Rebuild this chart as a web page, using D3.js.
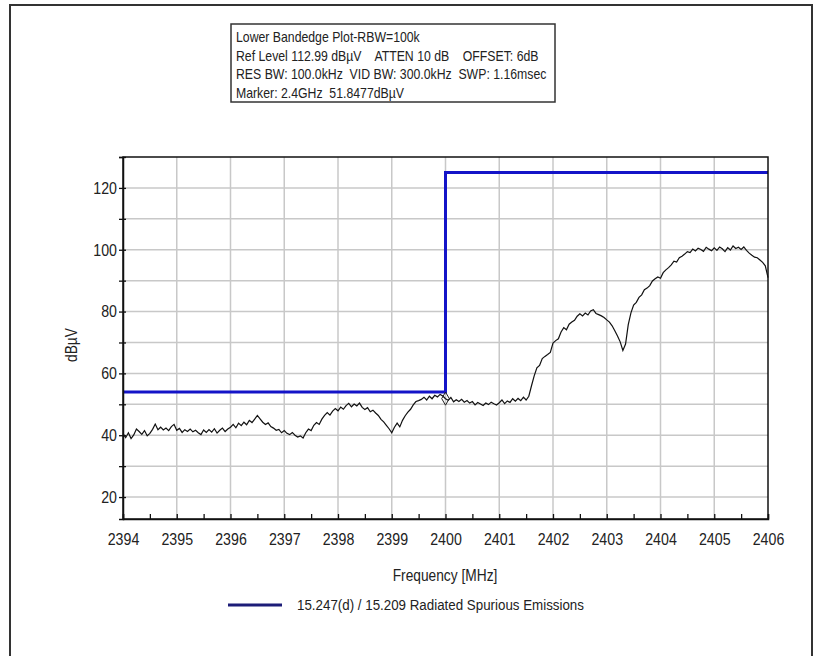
<!DOCTYPE html>
<html>
<head>
<meta charset="utf-8">
<script src="https://cdn.jsdelivr.net/npm/d3@7"></script>
<style>
  body { margin: 0; background: #fff; }
  text { font-family: "Liberation Sans", Arial, sans-serif; fill: #222; white-space: pre; }
</style>
</head>
<body>
<div id="chart"></div>
<script>
// header lines of the info box
var infoLines = [
  'Lower Bandedge Plot-RBW=100k',
  'Ref Level 112.99 dB\u00b5V    ATTEN 10 dB    OFFSET: 6dB',
  'RES BW: 100.0kHz  VID BW: 300.0kHz  SWP: 1.16msec',
  'Marker: 2.4GHz  51.8477dB\u00b5V'
];

var xTicks = [2394, 2395, 2396, 2397, 2398, 2399, 2400, 2401, 2402, 2403, 2404, 2405, 2406];
var yTicks = [20, 40, 60, 80, 100, 120];

// limit line (blue)
var limitFreq = [2394, 2400, 2400, 2406];
var limitLevel = [54, 54, 125, 125];
var limitName = '15.247(d) / 15.209 Radiated Spurious Emissions';

// measured trace, sweep from 2394 MHz in 0.05 MHz steps
var sweepStart = 2394, sweepStep = 0.05;
var trace = [
  40.5, 39.2, 40.8, 38.9, 40.1, 42.0, 41.2, 40.3, 41.5, 39.8, 40.6, 41.9, 43.6, 41.8, 42.6, 41.7, 42.3, 41.5, 42.8, 43.5,
  41.6, 42.2, 40.9, 41.8, 41.2, 42.0, 41.1, 41.6, 40.8, 40.2, 41.7, 40.9, 41.8, 41.0, 42.1, 40.7, 41.6, 42.3, 41.2, 42.0,
  42.6, 43.5, 42.4, 43.9, 43.1, 44.2, 43.4, 44.8, 44.1, 45.2, 46.4, 45.3, 44.2, 43.5, 44.0, 42.8, 42.3, 41.6, 41.9, 40.8,
  41.5, 40.6, 40.2, 40.9, 40.0, 39.4, 39.8, 39.1, 40.8, 42.0, 41.5, 43.2, 44.1, 43.5, 45.2, 46.4, 47.3, 46.5, 47.8, 48.6,
  47.9, 49.1, 48.4, 49.6, 50.3, 49.2, 50.1, 49.5, 50.4, 49.0, 48.3, 48.9, 47.6, 48.1, 47.2, 46.4, 45.1, 44.3, 43.2, 42.1,
  40.8, 42.6, 43.9, 42.7, 44.8, 46.3, 47.5, 48.4, 49.8, 50.9, 51.2, 51.6, 52.3, 51.4, 52.6, 51.8, 52.9, 52.4, 53.2, 52.7,
  51.8, 51.3, 52.2, 50.8, 51.5, 50.9, 51.6, 50.7, 51.2, 50.4, 50.9, 49.8, 50.6, 50.1, 49.6, 50.4, 49.9, 50.7, 50.2, 49.8,
  50.5, 51.4, 50.2, 51.1, 50.6, 51.8, 51.0, 51.9, 51.2, 52.3, 51.4, 52.6, 56.0, 59.2, 61.8, 62.6, 64.8, 65.5, 66.1, 66.8,
  69.8, 70.6, 71.2, 73.4, 74.8, 74.1, 75.9, 76.6, 77.2, 78.5, 79.3, 78.6, 79.5, 78.9, 80.2, 80.6, 79.4, 79.0, 78.6, 78.1,
  77.3, 76.6, 75.4, 73.8, 72.1, 70.2, 67.4, 69.5, 75.8, 79.6, 82.1, 83.0, 84.6, 85.4, 87.1, 87.6, 88.4, 89.9, 90.6, 91.2,
  90.8, 92.6, 93.5, 94.2, 95.1, 96.3, 96.0, 97.4, 97.9, 98.6, 99.4, 99.1, 100.2, 99.6, 100.5, 100.1, 99.5, 100.8, 100.2, 99.7,
  100.6, 99.8, 100.9, 100.3, 99.4, 100.7, 99.9, 101.2, 100.4, 100.8, 100.1, 100.9, 99.8, 98.9, 98.2, 97.6, 97.4, 96.7, 95.9, 94.8,
  91.0
];

var markerFreq = 2400, markerLevel = 51.8477;

var W = 821, H = 656;
var margin = {top: 157, right: 53, bottom: 137, left: 123},
    width = W - margin.left - margin.right,
    height = H - margin.top - margin.bottom;

var x = d3.scaleLinear().domain([2394, 2406]).range([0, width]);
var y = d3.scaleLinear().domain([12.9, 130]).range([height, 0]);

var svg0 = d3.select('#chart').append('svg')
    .attr('width', W)
    .attr('height', H);

// outer frame
svg0.append('rect')
    .attr('x', 10).attr('y', 5)
    .attr('width', 802).attr('height', 700)
    .attr('fill', 'none')
    .attr('stroke', '#333')
    .attr('stroke-width', 2);

// info box
var info = svg0.append('g').attr('transform', 'translate(231,24)');
info.append('rect')
    .attr('width', 324).attr('height', 78)
    .attr('fill', '#fff')
    .attr('stroke', '#333')
    .attr('stroke-width', 1.5);
info.selectAll('text.info')
    .data(infoLines)
    .enter().append('text')
    .attr('class', 'info')
    .attr('transform', function(d, i) { return 'translate(5,' + (18 + i * 18.5) + ') scale(0.835,1)'; })
    .attr('font-size', '14.7px')
    .text(function(d) { return d; });

var svg = svg0.append('g')
    .attr('transform', 'translate(' + margin.left + ',' + margin.top + ')');

// grid
svg.selectAll('line.hgrid')
    .data(d3.range(20, 121, 10))
    .enter().append('line')
    .attr('class', 'hgrid')
    .attr('x1', 0).attr('x2', width)
    .attr('y1', function(d) { return y(d); })
    .attr('y2', function(d) { return y(d); })
    .attr('stroke', '#c8c8c8').attr('stroke-width', 1.5);

svg.selectAll('line.vgrid')
    .data(xTicks.slice(1, -1))
    .enter().append('line')
    .attr('class', 'vgrid')
    .attr('y1', 0).attr('y2', height)
    .attr('x1', function(d) { return x(d); })
    .attr('x2', function(d) { return x(d); })
    .attr('stroke', '#c8c8c8').attr('stroke-width', 1.5);

// limit line
var limitData = limitFreq.map(function(f, i) { return {f: f, v: limitLevel[i]}; });
svg.append('path')
    .datum(limitData)
    .attr('fill', 'none')
    .attr('stroke', '#1414c8')
    .attr('stroke-width', 3)
    .attr('d', d3.line().x(function(d) { return x(d.f); }).y(function(d) { return y(d.v); }));

// trace
var traceData = trace.map(function(v, i) { return {f: sweepStart + i * sweepStep, v: v}; });
svg.append('path')
    .datum(traceData)
    .attr('fill', 'none')
    .attr('stroke', '#111')
    .attr('stroke-width', 1.2)
    .attr('d', d3.line().x(function(d) { return x(d.f); }).y(function(d) { return y(d.v); }));

// marker diamond
svg.append('path')
    .attr('d', d3.symbol().type(d3.symbolDiamond).size(50)())
    .attr('transform', 'translate(' + x(markerFreq) + ',' + y(markerLevel) + ')')
    .attr('fill', 'none')
    .attr('stroke', '#222')
    .attr('stroke-width', 1);

// frame of plot: top and right lines
svg.append('rect')
    .attr('width', width).attr('height', height)
    .attr('fill', 'none')
    .attr('stroke', '#111')
    .attr('stroke-width', 1.5);

// axes
var xAxis = svg.append('g')
    .attr('transform', 'translate(0,' + height + ')')
    .call(d3.axisBottom(x).tickValues(d3.range(2394, 2406.01, 0.5)).tickSize(-5).tickPadding(14)
      .tickFormat(function(d) { return d % 1 === 0 ? d : ''; }));
xAxis.select('.domain').attr('stroke', '#111').attr('stroke-width', 1.5);
xAxis.selectAll('.tick line').attr('stroke', '#111').attr('stroke-width', 1.3);
xAxis.selectAll('.tick text').attr('font-size', '16.5px').attr('fill', '#222').attr('font-family', null)
    .attr('transform', 'scale(0.86,1)');

var yAxis = svg.append('g')
    .call(d3.axisLeft(y).tickValues(d3.range(20, 131, 10)).tickSize(4).tickPadding(3)
      .tickFormat(function(d) { return d % 20 === 0 ? d : ''; }));
yAxis.select('.domain').attr('stroke', '#111').attr('stroke-width', 1.5);
yAxis.selectAll('.tick line').attr('stroke', '#111').attr('stroke-width', 1.3).attr('x2', 3).attr('x1', -4);
yAxis.selectAll('.tick text').attr('font-size', '16.5px').attr('fill', '#222').attr('font-family', null)
    .attr('transform', 'scale(0.86,1)');

// axis titles
svg0.append('text')
    .attr('transform', 'translate(445,581) scale(0.86,1)')
    .attr('text-anchor', 'middle')
    .attr('font-size', '16px')
    .text('Frequency [MHz]');

svg0.append('text')
    .attr('transform', 'translate(77,345) rotate(-90) scale(0.86,1)')
    .attr('text-anchor', 'middle')
    .attr('font-size', '16px')
    .text('dB\u00b5V');

// legend
svg0.append('line')
    .attr('x1', 228).attr('x2', 282)
    .attr('y1', 605).attr('y2', 605)
    .attr('stroke', '#1c1c78').attr('stroke-width', 3);
svg0.append('text')
    .attr('transform', 'translate(297,610) scale(0.89,1)')
    .attr('font-size', '15px')
    .text(limitName);
</script>
</body>
</html>
